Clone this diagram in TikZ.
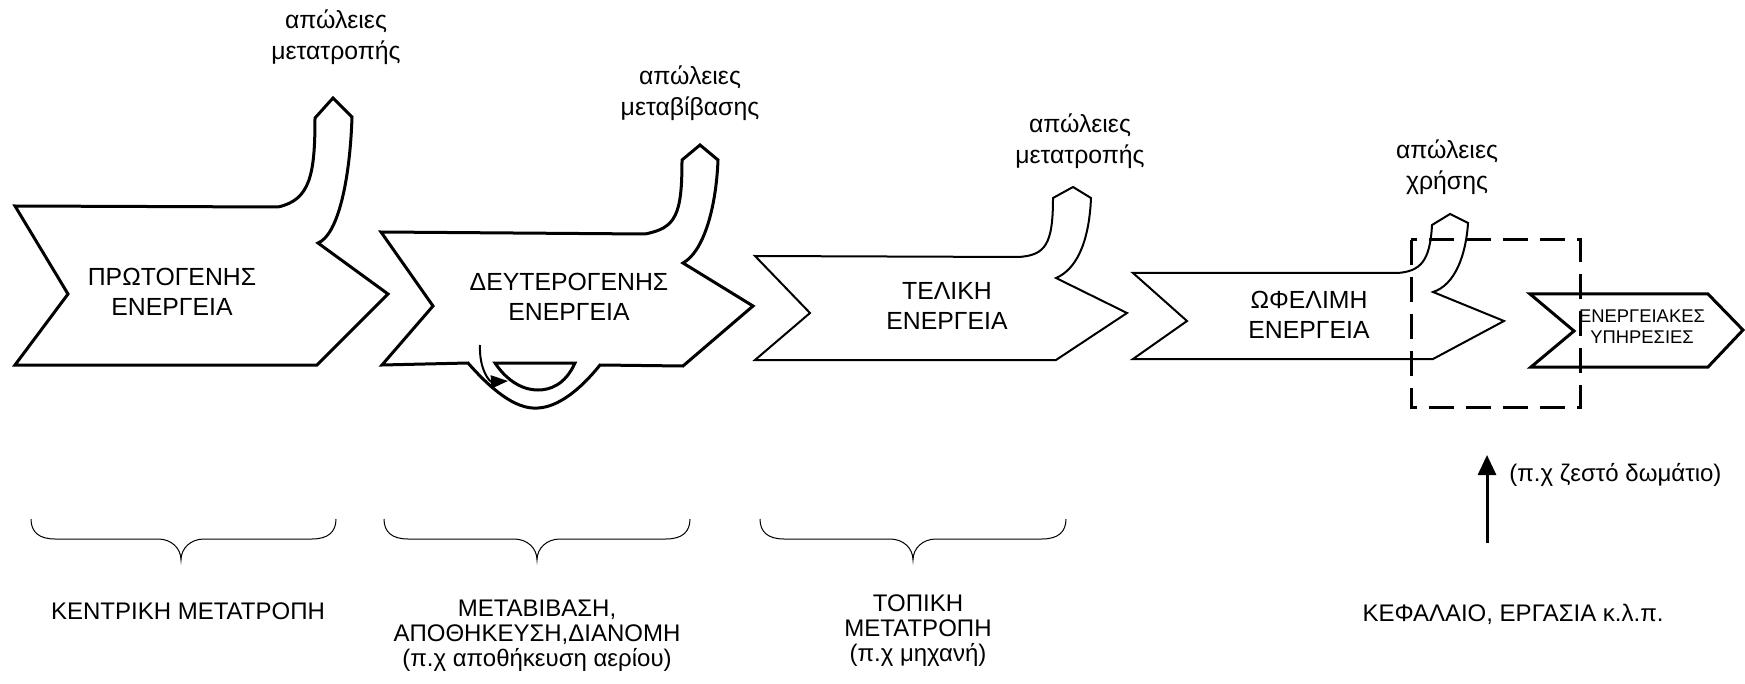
\documentclass[tikz,border=0pt]{standalone}
\usepackage{fontspec}
\setmainfont{Liberation Sans}
\usetikzlibrary{arrows.meta}

\tikzset{
  stage text/.style={font=\fontsize{12.4}{15}\selectfont, align=center, inner sep=0pt},
  loss text/.style={font=\fontsize{12.4}{15.5}\selectfont, align=center, inner sep=0pt},
  note text/.style={font=\fontsize{12}{12.5}\selectfont, align=center, inner sep=0pt},
  small text/.style={font=\fontsize{9.2}{10.5}\selectfont, align=center, inner sep=0pt},
  heavy outline/.style={line width=1.5pt, line join=miter},
  light outline/.style={line width=1pt, line join=miter},
  brace line/.style={line width=0.5pt},
}

\begin{document}
\begin{tikzpicture}[x=0.5pt, y=-0.5pt]
  \useasboundingbox (0,0) rectangle (1745,684);

  % Primary energy arrow with its loss tube
  \draw[heavy outline] (278,207) -- (15,206) -- (68,294) -- (15,365) -- (317,365) -- (388,294) -- (318,243)
    .. controls (338,235) and (350,180) .. (352,117) -- (333,98) -- (315,118)
    .. controls (315,175) and (310,200) .. (278,207);

  % Secondary energy arrow with storage loop
  \draw[heavy outline] (645,234) -- (381,232) -- (433,306) -- (382,365) -- (468,363)
    .. controls (490,388) and (515,410) .. (538,408)
    .. controls (558,407) and (580,390) .. (600,365) -- (683,366) -- (753,306) -- (683,263)
    .. controls (703,252) and (716,210) .. (718,160) -- (700,145) -- (682,160)
    .. controls (682,215) and (676,228) .. (645,234);
  \draw[heavy outline] (495,363) -- (575,363)
    .. controls (565,385) and (550,390) .. (538,390)
    .. controls (520,390) and (505,378) .. (495,363) -- cycle;
  \coordinate (loop start) at (480,345);
  \coordinate (loop end) at (508,381);
  \draw[line width=1pt, -{Triangle[width=6.5pt,length=8.5pt]}] (loop start)
    .. controls (479,370) and (490,382) .. (loop end);

  % Final energy arrow
  \draw[light outline] (1019,257) -- (755,256) -- (810,313) -- (755,360) -- (1056,360) -- (1127,313) -- (1056,278)
    .. controls (1075,270) and (1089,245) .. (1091,198) -- (1073,187) -- (1053,198)
    .. controls (1053,245) and (1045,255) .. (1019,257);

  % Useful energy arrow
  \draw[light outline] (1398,273) -- (1133,273) -- (1187,321) -- (1133,359) -- (1433,359) -- (1504,321) -- (1433,292)
    .. controls (1455,285) and (1466,255) .. (1468,223) -- (1450,214) -- (1432,225)
    .. controls (1430,262) and (1420,271) .. (1398,273);

  % Energy services arrow
  \draw[heavy outline] (1530,294) -- (1708,294) -- (1743,330) -- (1708,367) -- (1531,367) -- (1574,331) -- cycle;

  % Dashed frame
  \draw[line width=1.5pt, dash pattern=on 12.5pt off 6pt] (1411,240) rectangle (1580,407);

  % Labels inside the arrows
  \node[stage text] (primary) at (172,292) {ΠΡΩΤΟΓΕΝΗΣ\\ΕΝΕΡΓΕΙΑ};
  \node[stage text] (secondary) at (569,297) {ΔΕΥΤΕΡΟΓΕΝΗΣ\\ΕΝΕΡΓΕΙΑ};
  \node[stage text] (final) at (947,306) {ΤΕΛΙΚΗ\\ΕΝΕΡΓΕΙΑ};
  \node[stage text] (useful) at (1309,315) {ΩΦΕΛΙΜΗ\\ΕΝΕΡΓΕΙΑ};
  \node[small text] (services) at (1642,327) {ΕΝΕΡΓΕΙΑΚΕΣ\\ΥΠΗΡΕΣΙΕΣ};

  % Loss labels
  \node[loss text] (loss1) at (336,37) {απώλειες\\μετατροπής};
  \node[loss text] (loss2) at (690,93) {απώλειες\\μεταβίβασης};
  \node[loss text] (loss3) at (1080,141) {απώλειες\\μετατροπής};
  \node[loss text] (loss4) at (1447,167) {απώλειες\\χρήσης};

  % Braces under the stages
  \foreach \xa/\xt/\xb in {31/181/336, 384/537/690, 760/913/1066}{
    \draw[brace line] (\xa,519) .. controls (\xa,532) and (\xa+8,539) .. (\xa+24,539) -- (\xt-23,539)
      .. controls (\xt-10,539) and (\xt,548) .. (\xt,560)
      .. controls (\xt,548) and (\xt+10,539) .. (\xt+23,539) -- (\xb-24,539)
      .. controls (\xb-8,539) and (\xb,532) .. (\xb,519);
  }

  % Process labels
  \node[note text] (central) at (188,611) {ΚΕΝΤΡΙΚΗ ΜΕΤΑΤΡΟΠΗ};
  \node[note text] (transfer) at (537,636) {ΜΕΤΑΒΙΒΑΣΗ,\\ΑΠΟΘΗΚΕΥΣΗ,ΔΙΑΝΟΜΗ\\(π.χ αποθήκευση αερίου)};
  \node[note text] (local) at (918,631) {ΤΟΠΙΚΗ\\ΜΕΤΑΤΡΟΠΗ\\(π.χ μηχανή)};
  \node[note text] (capital) at (1513,614) {ΚΕΦΑΛΑΙΟ, ΕΡΓΑΣΙΑ κ.λ.π.};

  % Input arrow to the services
  \coordinate (input foot) at (1487,543);
  \coordinate (input head) at (1487,455);
  \draw[line width=1.5pt, -{Triangle[width=9pt,length=10pt]}] (input foot) -- (input head);
  \node[note text, anchor=west] (room) at (1509,475) {(π.χ ζεστό δωμάτιο)};
\end{tikzpicture}
\end{document}
